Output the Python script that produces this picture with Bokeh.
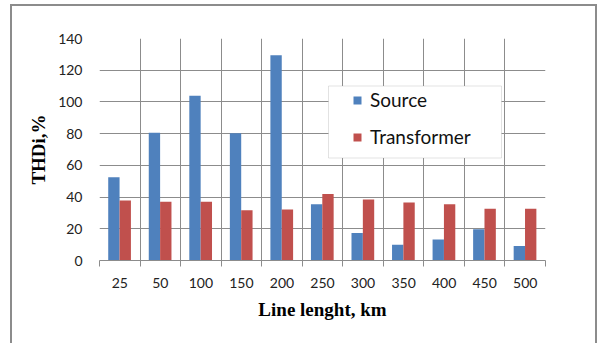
from bokeh.plotting import figure
from bokeh.models import (ColumnDataSource, Range1d, FixedTicker, Legend, LegendItem,
                          BoxAnnotation)
from bokeh.transform import dodge
from bokeh.embed import file_html
from bokeh.resources import INLINE

lengths = ["25", "50", "100", "150", "200", "250", "300", "350", "400", "450", "500"]
source_thd = [52.5, 80.6, 103.9, 80.2, 129.5, 35.5, 17.4, 9.9, 13.2, 19.7, 9.2]
transformer_thd = [37.8, 37.0, 37.0, 31.7, 32.1, 42.0, 38.4, 36.5, 35.5, 32.7, 32.7]
y_ticks = [0, 20, 40, 60, 80, 100, 120, 140]

pos = [i + 0.5 for i in range(len(lengths))]
src = ColumnDataSource(dict(x=pos, s=source_thd, t=transformer_thd))

GRID = "#8c8c8c"
BLUE = "#4F81BD"
RED = "#C0504D"
BORDER = "2px solid #8c8c8c"

p = figure(width=587, height=339, output_backend="svg", toolbar_location=None,
           x_range=Range1d(0, len(lengths)), y_range=Range1d(0, 140),
           min_border_left=87, min_border_right=54, min_border_top=32, min_border_bottom=85,
           margin=(4, 0, 0, 10),
           styles={"border-top": BORDER, "border-left": BORDER, "border-right": BORDER})
p.outline_line_color = None
p.background_fill_color = "white"
p.border_fill_color = "white"

r1 = p.vbar(x=dodge("x", -0.145, range=p.x_range), top="s", width=0.28, source=src,
            fill_color=BLUE, line_color=None)
r2 = p.vbar(x=dodge("x", 0.135, range=p.x_range), top="t", width=0.28, source=src,
            fill_color=RED, line_color=None)

# x axis: labels at category centres, ticks/grid at boundaries
xt = FixedTicker(ticks=pos, minor_ticks=list(range(len(lengths) + 1)))
p.xaxis.ticker = xt
p.xaxis.major_label_overrides = {v: lab for v, lab in zip(pos, lengths)}
p.xaxis.major_tick_line_color = None
p.xaxis.major_tick_out = 0
p.xaxis.major_tick_in = 0
p.xaxis.minor_tick_line_color = GRID
p.xaxis.minor_tick_out = 6
p.xaxis.minor_tick_in = 0
p.xaxis.axis_line_color = GRID
p.xaxis.major_label_standoff = 11
p.xaxis.major_label_text_font = "Lato"
p.xaxis.major_label_text_font_size = "14px"
p.xaxis.major_label_text_color = "#222222"
p.xaxis.axis_label = "Line lenght, km"
p.xaxis.axis_label_text_font = "Liberation Serif"
p.xaxis.axis_label_text_font_style = "bold"
p.xaxis.axis_label_text_font_size = "19px"
p.xaxis.axis_label_text_color = "black"
p.xaxis.axis_label_standoff = 8
p.xgrid.grid_line_color = None
p.xgrid.minor_grid_line_color = GRID

p.yaxis.ticker = FixedTicker(ticks=y_ticks)
p.yaxis.axis_line_color = None
p.yaxis.major_tick_line_color = None
p.yaxis.minor_tick_line_color = None
p.yaxis.major_tick_out = 0
p.yaxis.major_tick_in = 0
p.yaxis.major_label_standoff = 17
p.yaxis.major_label_text_font = "Lato"
p.yaxis.major_label_text_font_size = "14px"
p.yaxis.major_label_text_color = "#222222"
p.yaxis.axis_label = "THDi,%"
p.yaxis.axis_label_text_font = "Liberation Serif"
p.yaxis.axis_label_text_font_style = "bold"
p.yaxis.axis_label_text_font_size = "19px"
p.yaxis.axis_label_text_color = "black"
p.yaxis.axis_label_standoff = 6
p.ygrid.grid_line_color = GRID

# legend box
lbox = BoxAnnotation(left=314, right=487, top=77.5, bottom=149.5,
                     left_units="canvas", right_units="canvas",
                     top_units="canvas", bottom_units="canvas",
                     fill_color="white", fill_alpha=1.0, line_color="#a0a0a0", line_width=1)
p.add_layout(lbox)

legend = Legend(items=[LegendItem(label="Source", renderers=[r1]),
                       LegendItem(label="Transformer", renderers=[r2])],
                location=(253, 112), orientation="vertical",
                padding=0, margin=0, spacing=14,
                glyph_width=10, glyph_height=10, label_height=22,
                label_standoff=8,
                label_text_font="Lato", label_text_font_size="19px",
                label_text_color="#111111",
                background_fill_alpha=0, border_line_color=None)
p.add_layout(legend)

open("out.html", "w").write(file_html(p, INLINE))
